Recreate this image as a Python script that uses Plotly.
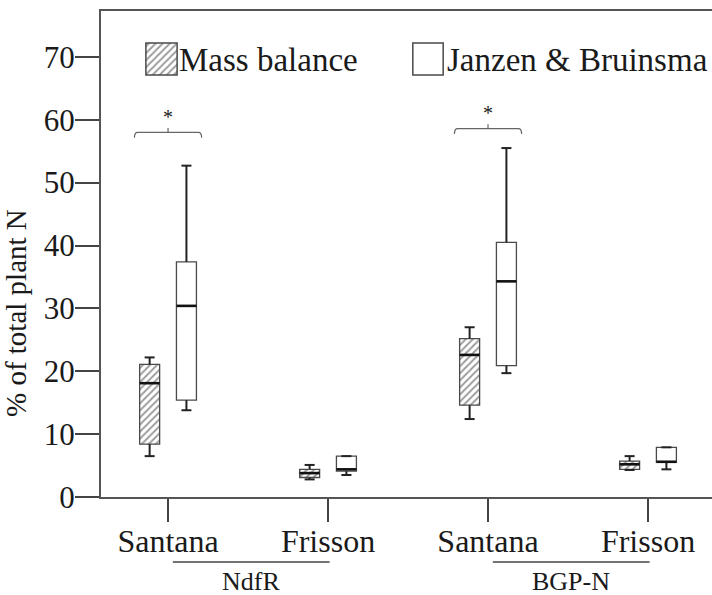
import plotly.graph_objects as go

# ---------------- data ----------------
categories = ["Santana", "Frisson", "Santana", "Frisson"]
groups = ["NdfR", "BGP-N"]
group_members = [[0, 1], [2, 3]]

mb_upper  = [22.2, 5.1, 27.0, 6.5]
mb_q3     = [21.1, 4.4, 25.2, 5.7]
mb_median = [18.1, 3.8, 22.6, 5.2]
mb_q1     = [8.4, 3.1, 14.6, 4.4]
mb_lower  = [6.5, 2.8, 12.4, 4.3]

jb_upper  = [52.7, 6.5, 55.5, 7.9]
jb_q3     = [37.4, 6.5, 40.5, 7.9]
jb_median = [30.4, 4.4, 34.3, 5.6]
jb_q1     = [15.4, 4.1, 20.9, 5.5]
jb_lower  = [13.8, 3.5, 19.7, 4.4]

sig_categories = [0, 2]
sig_levels = [58.0, 58.6]
sig_labels = ["*", "*"]

series_names = ["Mass balance", "Janzen & Bruinsma"]
y_ticks = [0, 10, 20, 30, 40, 50, 60, 70]

# ---------------- style ----------------
W, H = 712, 595
ML, MR, MT, MB = 101, 0, 11, 98
PW, PH = W - ML - MR, H - MT - MB
FONT = "'Liberation Serif', 'Times New Roman', Times, serif"
TXT = "#1a1a1a"
AX = "#555555"
off = 0.115
box_w = 0.125
cap_w = 0.0625
HATCH = dict(shape="/", fgcolor="#3a3a3a", bgcolor="white", size=5, solidity=0.4)

def px_x(p):
    return (p - ML) / PW

def px_y(p):
    return (H - MB - p) / PH

pos = list(range(len(categories)))

fig = go.Figure()

def add_series(xs, upper, q3, med, q1, lower, hatched):
    marker = dict(color="white", line=dict(color="#4a4a4a", width=1.3))
    if hatched:
        marker["pattern"] = HATCH
    fig.add_trace(go.Bar(x=xs, y=[a - b for a, b in zip(q3, q1)], base=q1,
                         width=box_w, marker=marker, showlegend=False,
                         hoverinfo="skip"))
    wx, wy, cx, cy, mx, my = [], [], [], [], [], []
    for x, u, t, m, b, l in zip(xs, upper, q3, med, q1, lower):
        wx += [x, x, None, x, x, None]
        wy += [t, u, None, b, l, None]
        cx += [x - cap_w / 2, x + cap_w / 2, None, x - cap_w / 2, x + cap_w / 2, None]
        cy += [u, u, None, l, l, None]
        mx += [x - box_w / 2, x + box_w / 2, None]
        my += [m, m, None]
    fig.add_trace(go.Scatter(x=wx, y=wy, mode="lines",
                             line=dict(color="#222222", width=2),
                             showlegend=False, hoverinfo="skip"))
    fig.add_trace(go.Scatter(x=cx, y=cy, mode="lines",
                             line=dict(color="#222222", width=2),
                             showlegend=False, hoverinfo="skip"))
    fig.add_trace(go.Scatter(x=mx, y=my, mode="lines",
                             line=dict(color="#111111", width=2.6),
                             showlegend=False, hoverinfo="skip"))

add_series([p - off for p in pos], mb_upper, mb_q3, mb_median, mb_q1, mb_lower, True)
add_series([p + off for p in pos], jb_upper, jb_q3, jb_median, jb_q1, jb_lower, False)

# ---------------- significance brackets ----------------
shapes = []
annotations = []
half = 0.21
for c, yb, lab in zip(sig_categories, sig_levels, sig_labels):
    x0, x1 = c - half, c + half
    path = (f"M {x0} {yb-0.85} Q {x0} {yb} {x0+0.02} {yb} L {x1-0.02} {yb} "
            f"Q {x1} {yb} {x1} {yb-0.85} M {c} {yb} L {c} {yb+0.7}")
    shapes.append(dict(type="path", xref="x", yref="y", path=path,
                       line=dict(color="#666666", width=1.2)))
    annotations.append(dict(x=c, y=yb + 2.4, xref="x", yref="y", text=lab,
                            showarrow=False, font=dict(family=FONT, size=20, color=TXT)))

# ---------------- group labels ----------------
for g, members in zip(groups, group_members):
    a, b = members[0] + 0.03, members[-1] + 0.01
    shapes.append(dict(type="line", xref="x", yref="paper", x0=a, x1=b,
                       y0=px_y(562), y1=px_y(562),
                       line=dict(color="#444444", width=1.5)))
    annotations.append(dict(x=(a + b) / 2, y=px_y(565), xref="x", yref="paper",
                            text=g, showarrow=False, yanchor="top",
                            font=dict(family=FONT, size=26, color=TXT)))

# ---------------- y title ----------------
annotations.append(dict(x=px_x(16), y=px_y(313), xref="paper", yref="paper",
                        text="% of total plant N", textangle=-90, showarrow=False,
                        xanchor="center", yanchor="middle",
                        font=dict(family=FONT, size=29, color=TXT)))

# ---------------- legend (manual) ----------------
leg_boxes = [(144, 179), (411, 445)]
leg_text_x = [177, 445]
leg_y0, leg_y1 = 41, 77
for i, (name, (lx0, lx1), tx) in enumerate(zip(series_names, leg_boxes, leg_text_x)):
    xa, ya = f"x{i+2}", f"y{i+2}"
    marker = dict(color="white", line=dict(color="#4a4a4a", width=1.5))
    if i == 0:
        marker["pattern"] = HATCH
    fig.add_trace(go.Bar(x=[0], y=[1], base=[0], width=1, marker=marker,
                         xaxis=xa, yaxis=ya, showlegend=False, hoverinfo="skip"))
    fig.layout[f"xaxis{i+2}"] = dict(domain=[px_x(lx0), px_x(lx1)], range=[-0.56, 0.56],
                                     visible=False, fixedrange=True, anchor=ya)
    fig.layout[f"yaxis{i+2}"] = dict(domain=[px_y(leg_y1), px_y(leg_y0)], range=[-0.06, 1.06],
                                     visible=False, fixedrange=True, anchor=xa)
    annotations.append(dict(x=px_x(tx), y=px_y(60), xref="paper", yref="paper",
                            text=name, showarrow=False, xanchor="left", yanchor="middle",
                            font=dict(family=FONT, size=33, color=TXT)))

fig.update_layout(
    width=W, height=H,
    margin=dict(l=ML, r=MR, t=MT, b=MB, pad=0),
    paper_bgcolor="white", plot_bgcolor="white",
    barmode="overlay",
    shapes=shapes, annotations=annotations,
    xaxis=dict(range=[-0.419, 3.40], tickvals=pos, ticktext=categories,
               ticks="outside", ticklen=23, tickwidth=1.5, tickcolor="#444444",
               showline=True, linecolor=AX, linewidth=2, mirror=True,
               showgrid=False, zeroline=False, ticklabelstandoff=-8,
               tickfont=dict(family=FONT, size=32, color=TXT)),
    yaxis=dict(range=[0, 77.3], tickvals=y_ticks,
               ticks="outside", ticklen=24, tickwidth=1.5, tickcolor="#444444",
               showline=True, linecolor=AX, linewidth=2, mirror=False,
               showgrid=False, zeroline=False, ticklabelstandoff=-6,
               tickfont=dict(family=FONT, size=31, color=TXT)),
)

fig.write_html("out.html")
